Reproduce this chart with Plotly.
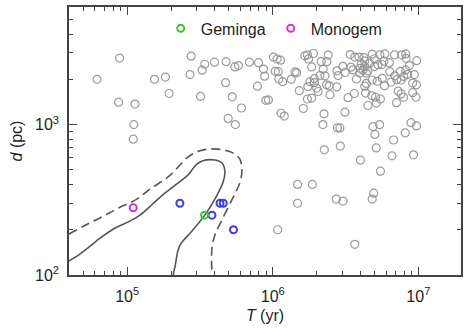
import plotly.graph_objects as go

# ---- data (T in yr, d in pc) ----
T_gray = [6.20e4, 8.86e4, 8.72e4, 1.13e5, 1.11e5, 1.10e5, 1.54e5, 1.83e5, 1.94e5, 2.75e5,
          2.70e5, 3.19e5, 3.41e5, 3.27e5, 3.98e5, 4.78e5, 4.74e5, 5.26e5, 4.94e5, 5.53e5,
          5.49e5, 5.81e5, 6.10e5, 6.91e5, 7.98e5, 8.63e5, 8.79e5, 7.85e5, 1.01e6, 1.07e6,
          1.13e6, 1.04e6, 1.09e6, 1.10e6, 1.17e6, 8.96e5, 9.33e5, 1.14e6, 1.20e6, 1.34e6,
          1.42e6, 1.46e6, 1.52e6, 1.73e6, 1.62e6, 1.66e6, 1.73e6, 1.90e6, 1.76e6, 1.85e6,
          2.15e6, 2.35e6, 2.40e6, 2.22e6, 2.11e6, 2.28e6, 1.93e6, 1.80e6, 1.93e6, 2.00e6,
          2.05e6, 1.74e6, 2.34e6, 2.44e6, 2.76e6, 2.81e6, 3.03e6, 3.14e6, 2.75e6, 3.29e6,
          3.63e6, 3.13e6, 2.25e6, 2.21e6, 2.78e6, 2.89e6, 2.26e6, 2.91e6, 1.85e6, 2.47e6,
          3.40e6, 3.66e6, 3.91e6, 4.23e6, 4.28e6, 4.82e6, 4.99e6, 5.44e6, 5.89e6, 6.86e6,
          7.69e6, 8.19e6, 8.23e6, 9.74e6, 8.68e6, 8.19e6, 7.51e6, 6.89e6, 7.94e6, 6.37e6,
          5.80e6, 5.62e6, 5.28e6, 5.01e6, 4.63e6, 4.51e6, 4.17e6, 3.96e6, 4.28e6, 4.06e6,
          3.44e6, 3.56e6, 3.96e6, 4.39e6, 3.76e6, 4.28e6, 4.39e6, 4.34e6, 4.79e6, 5.07e6,
          5.49e6, 4.82e6, 5.22e6, 5.65e6, 5.86e6, 6.50e6, 7.11e6, 7.61e6, 9.39e6, 8.45e6,
          9.14e6, 9.71e6, 7.26e6, 7.61e6, 7.91e6, 9.14e6, 9.63e6, 7.08e6, 4.51e6, 5.14e6,
          4.88e6, 5.42e6, 5.03e6, 6.76e6, 8.13e6, 8.90e6, 9.71e6, 5.14e6, 6.59e6, 9.26e6,
          4.00e6, 5.49e6, 2.73e6, 3.04e6, 4.94e6, 4.82e6, 3.66e6, 1.48e6, 1.87e6, 1.48e6,
          1.08e6, 6.32e6]
d_gray = [2000, 2770, 1410, 1370, 1000, 800, 2000, 2070, 1610, 2850,
          2150, 1540, 2520, 2300, 2600, 2620, 1900, 1530, 1100, 1000,
          2420, 2470, 1290, 2600, 2580, 2340, 2100, 1800, 2810, 2730,
          2680, 2260, 2250, 2010, 1930, 1450, 1460, 1190, 1140, 2000,
          2240, 2210, 1680, 1480, 1280, 2870, 2910, 2970, 2730, 2420,
          2620, 2620, 2900, 2340, 2120, 2110, 2020, 1930, 1900, 1750,
          1660, 1790, 1840, 1810, 2280, 2120, 2440, 2220, 1780, 1510,
          1610, 1210, 1180, 1000, 950, 950, 680, 720, 1500, 1580,
          2920, 2810, 2810, 2790, 2650, 2940, 2740, 2910, 2950, 2910,
          2910, 2950, 2760, 2660, 2470, 2310, 2260, 2110, 2090, 2250,
          2640, 2510, 2500, 2430, 2560, 2280, 2300, 2370, 2430, 2530,
          2410, 2310, 2200, 2200, 2010, 1800, 1880, 1620, 1560, 1520,
          1480, 1980, 1940, 2030, 1810, 1920, 1990, 1980, 2150, 2160,
          1890, 1840, 1670, 1600, 1520, 1630, 1520, 1400, 1340, 1390,
          970, 1000, 860, 790, 880, 1030, 980, 700, 620, 630,
          580, 490, 320, 310, 350, 320, 160, 400, 400, 300,
          200, 2580]

T_blue = [2.30e5, 3.82e5, 4.34e5, 4.57e5, 5.37e5]
d_blue = [300, 250, 300, 300, 200]

T_geminga = [3.4e5]
d_geminga = [250]
T_monogem = [1.1e5]
d_monogem = [280]

# contour lines
T_solid = [3.97e4, 4.65e4, 5.45e4, 6.68e4, 8.32e4, 1.05e5, 1.23e5, 1.47e5, 1.82e5, 2.24e5,
           2.62e5, 2.97e5, 3.27e5, 4.01e5, 4.48e5, 4.69e5, 4.54e5, 4.01e5, 3.42e5, 2.75e5,
           2.35e5, 2.24e5, 2.14e5, 2.07e5]
d_solid = [124, 136, 153, 179, 206, 229, 251, 292, 351, 410,
           463, 540, 573, 582, 556, 484, 410, 321, 251, 193,
           163, 147, 117, 100]
T_dash = [3.97e4, 5.19e4, 6.68e4, 8.72e4, 1.14e5, 1.47e5, 1.91e5, 2.24e5, 2.62e5, 3.12e5,
          3.82e5, 4.61e5, 5.32e5, 5.93e5, 6.12e5, 6.03e5, 5.66e5, 5.15e5, 4.40e5, 4.01e5,
          3.82e5, 3.82e5]
d_dash = [187, 215, 243, 279, 316, 379, 449, 523, 610, 668,
          689, 678, 649, 591, 515, 429, 368, 306, 225, 185,
          151, 100]

x_major = [1e5, 1e6, 1e7]
x_major_text = ["10<sup>5</sup>", "10<sup>6</sup>", "10<sup>7</sup>"]
y_major = [100, 1000]
y_major_text = ["10<sup>2</sup>", "10<sup>3</sup>"]
x_minor = [m * 10 ** e for e in (4, 5, 6, 7) for m in range(2, 10)]
y_minor = [m * 10 ** e for e in (2, 3) for m in range(2, 10)]

FONT = "Liberation Sans, Arial, Helvetica, sans-serif"
AX = "#444444"
TXT = "#1e1e1e"

fig = go.Figure()
fig.add_trace(go.Scatter(x=T_gray, y=d_gray, mode="markers", showlegend=False,
                         marker=dict(symbol="circle-open", size=8,
                                     line=dict(width=1.2), color="rgba(145,145,145,0.9)")))
fig.add_trace(go.Scatter(x=T_solid, y=d_solid, mode="lines", showlegend=False,
                         line=dict(color="#555555", width=1.6, shape="spline")))
fig.add_trace(go.Scatter(x=T_dash, y=d_dash, mode="lines", showlegend=False,
                         line=dict(color="#555555", width=1.6, dash="9px,5px", shape="spline")))
fig.add_trace(go.Scatter(x=T_blue, y=d_blue, mode="markers", showlegend=False,
                         marker=dict(symbol="circle-open", size=7,
                                     line=dict(width=2), color="#3a3af0")))
fig.add_trace(go.Scatter(x=T_geminga, y=d_geminga, mode="markers", name="Geminga",
                         marker=dict(symbol="circle-open", size=7,
                                     line=dict(width=2), color="#33c633")))
fig.add_trace(go.Scatter(x=T_monogem, y=d_monogem, mode="markers", name="Monogem",
                         marker=dict(symbol="circle-open", size=7,
                                     line=dict(width=2), color="#cc33cc")))

axis_common = dict(
    showgrid=False, zeroline=False, showline=True, linecolor=AX, linewidth=1.5,
    mirror="allticks", ticks="inside", ticklen=8, tickwidth=1.2, tickcolor=AX,
    tickfont=dict(family=FONT, size=16, color=TXT),
)

fig.update_xaxes(type="log", range=[4.6, 7.293], tickmode="array",
                 tickvals=x_major, ticktext=x_major_text, ticklabelstandoff=6,
                 minor=dict(tickmode="array", tickvals=x_minor, ticks="inside",
                            ticklen=4, tickwidth=1, tickcolor=AX),
                 title=dict(text="<i>T</i> (yr)", font=dict(family=FONT, size=16, color=TXT),
                            standoff=6),
                 **axis_common)
fig.update_yaxes(type="log", range=[2, 3.782], tickmode="array",
                 tickvals=y_major, ticktext=y_major_text, ticklabelstandoff=5,
                 minor=dict(tickmode="array", tickvals=y_minor, ticks="inside",
                            ticklen=4, tickwidth=1, tickcolor=AX),
                 title=dict(text="<i>d</i> (pc)", font=dict(family=FONT, size=16, color=TXT),
                            standoff=8),
                 **axis_common)

fig.update_layout(
    width=466, height=328,
    margin=dict(l=69, r=3, t=7, b=53),
    paper_bgcolor="white", plot_bgcolor="white",
    font=dict(family=FONT, size=16, color=TXT),
    legend=dict(orientation="h", x=0.234, y=0.92, xanchor="left", yanchor="middle",
                bgcolor="rgba(0,0,0,0)", font=dict(family=FONT, size=16, color=TXT),
                itemwidth=30, tracegroupgap=0),
)

fig.write_html("out.html")
